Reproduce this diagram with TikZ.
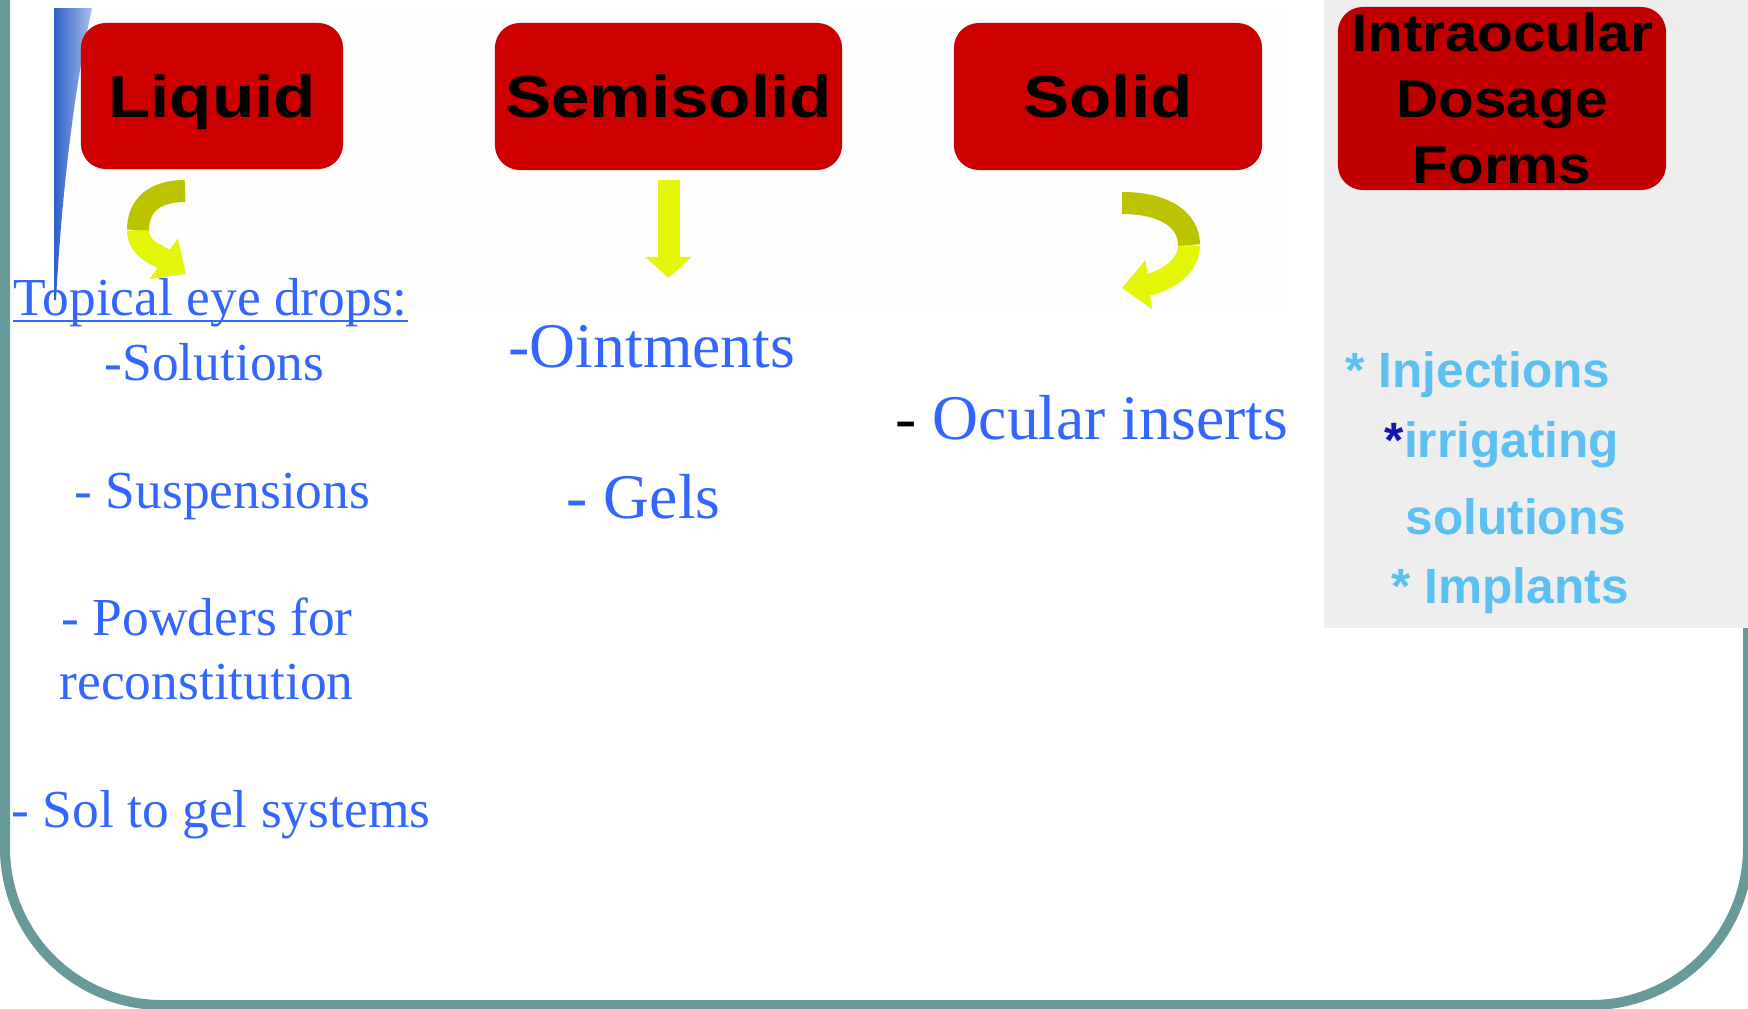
\documentclass[tikz,border=0pt]{standalone}
\usepackage{fontspec}
\setmainfont{Liberation Serif}
\newfontfamily\boxfont[FakeStretch=1.17]{Liberation Sans}
\newfontfamily\tallboxfont[FakeStretch=1.1]{Liberation Sans}
\newfontfamily\listfont{Liberation Sans}
\usetikzlibrary{arrows.meta}

\definecolor{frameteal}{RGB}{104,154,154}
\definecolor{panelgrey}{RGB}{238,238,238}
\definecolor{boxred}{RGB}{204,0,0}
\definecolor{boxdarkred}{RGB}{192,0,0}
\definecolor{itemblue}{RGB}{51,102,255}
\definecolor{skyblue}{RGB}{92,192,242}
\definecolor{starblue}{RGB}{24,24,170}
\definecolor{ribbonolive}{RGB}{188,196,0}
\definecolor{ribbonyellow}{RGB}{228,246,8}
\definecolor{swooshblue}{RGB}{45,95,200}

\tikzset{
  redbox/.style={fill=boxred, rounded corners=0.25cm, inner sep=0pt,
    font=\boxfont\bfseries\fontsize{16.8}{20}\selectfont},
  boxlabel/.style={redbox, text depth=0pt, text height=12pt},
  item/.style={anchor=base west, inner sep=0pt, text=itemblue,
    font=\fontsize{15.2}{18}\selectfont},
  bigitem/.style={item, font=\fontsize{18.1}{21}\selectfont},
  skyitem/.style={anchor=base west, inner sep=0pt, text=skyblue,
    font=\listfont\bfseries\fontsize{14.1}{16}\selectfont},
  ribbon/.style={line width=0.22cm},
  ribbonhead/.style={-{Triangle[length=0.27cm, width=0.48cm]}},
}

\begin{document}
\begin{tikzpicture}[x=0.01cm, y=-0.01cm]
\useasboundingbox (0,0) rectangle (1748,1009);
\clip (0,0) rectangle (1748,1009);

% 外框
\draw[frameteal, line width=0.1cm, rounded corners=1.57cm]
  (5,-40) -- (5,1005) -- (1748,1005) -- (1748,-40);

% 顶部背景与左侧蓝色条
\fill[white!99.5!black] (54,8) rectangle (1284,312);
\shade[left color=swooshblue, right color=white!60!swooshblue]
  (54,8) -- (92,8) .. controls (74,90) and (62,190) .. (56,300) -- (54,300) -- cycle;

% 右侧灰色面板
\fill[panelgrey] (1324,0) rectangle (1748,628);

% 红色标题框
\node[boxlabel, minimum width=2.62cm, minimum height=1.46cm] (liquid) at (212,96) {Liquid};
\node[boxlabel, minimum width=3.47cm, minimum height=1.47cm] (semisolid) at (668.5,96.5) {Semisolid};
\node[boxlabel, minimum width=3.08cm, minimum height=1.47cm] (solid) at (1108,96.5) {Solid};
\node[redbox, fill=boxdarkred, minimum width=3.28cm, minimum height=1.83cm, align=center,
  font=\tallboxfont\bfseries\fontsize{15.1}{18.7}\selectfont] (intraocular) at (1502,98.5)
  {Intraocular\\Dosage\\Forms};

% 箭头
\coordinate (liqtop) at (185,191);
\coordinate (liqmid) at (138,230);
\coordinate (liqtip) at (186,274);
\draw[ribbon, ribbonyellow, ribbonhead] (liqmid) .. controls (138,250) and (160,256) .. (liqtip);
\draw[ribbon, ribbonolive] (liqtop) .. controls (155,191) and (138,205) .. (liqmid);

\coordinate (semitip) at (668.5,278);
\draw[ribbon, ribbonyellow, -{Triangle[length=0.21cm, width=0.45cm]}]
  ([yshift=-0.09cm]semisolid.south) -- (semitip);

\coordinate (soltop) at (1122,203);
\coordinate (solmid) at (1189,245);
\coordinate (soltip) at (1122,288);
\draw[ribbon, ribbonyellow, ribbonhead] (solmid) .. controls (1189,270) and (1160,283) .. (soltip);
\draw[ribbon, ribbonolive] (soltop) .. controls (1165,203) and (1189,220) .. (solmid);

% 液体制剂
\node[item] (topical) at (13,315) {Topical eye drops:};
\draw[itemblue, line width=0.025cm]
  ([yshift=-0.06cm]topical.base west) -- ([yshift=-0.06cm]topical.base east);
\node[item] (solutions) at (104,380) {-Solutions};
\node[item] (suspensions) at (74,508) {- Suspensions};
\node[item] (powders) at (61,635) {- Powders for};
\node[item] (reconst) at (59,699) {reconstitution};
\node[item] (solgel) at (11,827) {- Sol to gel systems};

% 半固体与固体
\node[bigitem] (ointments) at (508,367) {-Ointments};
\node[bigitem] (gels) at (566,518) {- Gels};
\node[bigitem] (inserts) at (895,439) {\textcolor{black}{-} Ocular inserts};

% 眼内制剂
\node[skyitem] (injections) at (1345,387) {* Injections};
\node[skyitem] (irrigating) at (1384,457) {\textcolor{starblue}{*}irrigating};
\node[skyitem] (irrsol) at (1405,534) {solutions};
\node[skyitem] (implants) at (1391,603) {* Implants};

\end{tikzpicture}
\end{document}
